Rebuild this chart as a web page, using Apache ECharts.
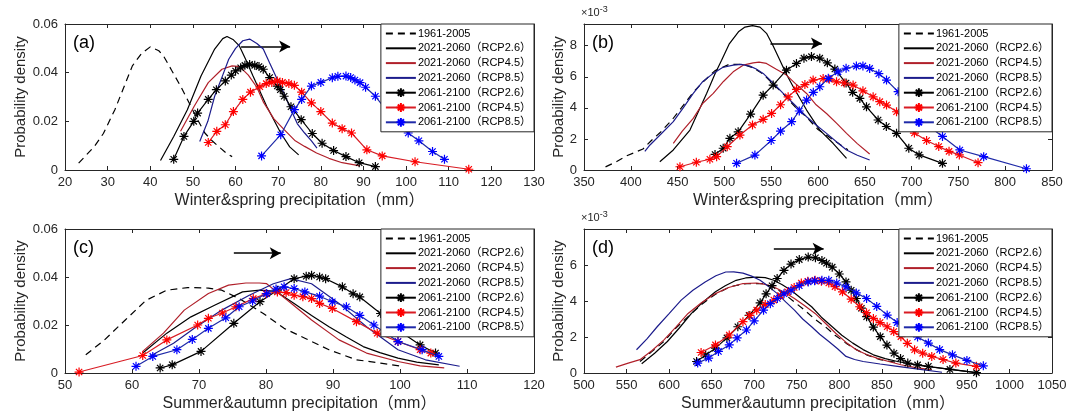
<!DOCTYPE html>
<html><head><meta charset="utf-8">
<script src="https://cdn.jsdelivr.net/npm/echarts@6/dist/echarts.min.js"></script>
<style>html,body{margin:0;padding:0;background:#fff}#c{width:1077px;height:420px}</style>
</head><body><div id="c"></div><script>
const NAMES = ['1961-2005','2021-2060（RCP2.6）','2021-2060（RCP4.5）','2021-2060（RCP8.5）','2061-2100（RCP2.6）','2061-2100（RCP4.5）','2061-2100（RCP8.5）'];

// ---------- Panel (a): Winter&spring, mm ----------
const a_hist = [[23.2,0.0028],[26.9,0.0097],[29,0.015],[31.7,0.0248],[33.8,0.034],[35.8,0.0428],[38,0.048],[40,0.0506],[42,0.049],[43.1,0.0469],[45,0.041],[47.1,0.0345],[49.1,0.0276],[51,0.021],[52.8,0.0152],[54.5,0.012],[56,0.0097],[57.8,0.007],[59.2,0.0055]];
const a_26_mid = [[42.4,0.0039],[45.5,0.0138],[48.7,0.0248],[51.9,0.0386],[55.1,0.0497],[57,0.054],[58,0.0549],[59.5,0.0535],[60.9,0.051],[62.5,0.045],[64.1,0.0386],[67.3,0.0262],[70.6,0.0152],[72.7,0.0095],[74.8,0.0062]];
const a_45_mid = [[47.1,0.0159],[50.3,0.0262],[53.6,0.0359],[56.8,0.0414],[59.2,0.0428],[61,0.0425],[63,0.039],[65,0.034],[66.5,0.028],[69,0.021],[71.4,0.0166],[74,0.012],[76.2,0.0097],[79,0.007],[81.9,0.0048],[85,0.003],[89.2,0.0017]];
const a_85_mid = [[51.6,0.0117],[53.5,0.02],[55.1,0.0303],[57,0.039],[58.4,0.0455],[60,0.05],[61.7,0.0531],[63.3,0.0538],[65,0.052],[66.5,0.0497],[68,0.044],[69.8,0.0372],[71.5,0.031],[73,0.0248],[74.5,0.019],[76.2,0.0152],[77.8,0.012],[79.1,0.009]];
const a_26_end = [[45.5,0.0044],[47.9,0.0138],[50.2,0.02],[51.1,0.0234],[53.6,0.029],[55.5,0.033],[57.6,0.0366],[59,0.039],[60,0.0407],[61.2,0.042],[62.2,0.043],[63.3,0.0434],[64.5,0.043],[65.5,0.0425],[66.5,0.0414],[68,0.038],[69.8,0.0345],[70.5,0.033],[71.4,0.0303],[73,0.026],[75.4,0.0207],[78,0.015],[80.3,0.011],[83,0.008],[85.9,0.0055],[89,0.003],[92.8,0.0014]];
const a_45_end = [[53.6,0.0113],[55.6,0.0159],[57.6,0.0186],[59.5,0.024],[61.7,0.029],[63.5,0.032],[65.7,0.0342],[67.2,0.0355],[68.5,0.036],[69.8,0.0366],[71,0.036],[72.5,0.0355],[73.8,0.0348],[75.5,0.032],[77.8,0.0276],[80,0.024],[82.7,0.0193],[85,0.017],[87.2,0.0152],[90.8,0.0083],[94.4,0.0058],[102.1,0.0034],[114.7,0.0003]];
const a_85_end = [[66.1,0.0058],[70.6,0.0145],[73.8,0.0248],[75.5,0.029],[77.8,0.0345],[80,0.036],[82.7,0.0379],[84,0.0385],[85.9,0.0386],[87,0.038],[88,0.037],[89.2,0.0359],[90.5,0.034],[92.8,0.0303],[95.6,0.0241],[98,0.019],[100.5,0.0152],[103,0.012],[106.2,0.0076],[109,0.0044]];
const a_arrow = [[61.3,0.0508],[72.8,0.0508]];

// ---------- Panel (b): Winter&spring, x10^-3 ----------
const b_hist = [[373,0.2],[385,0.55],[395,0.9],[405,1.15],[413,1.35],[422,1.9],[432,2.45],[445,3.3],[454,4.0],[466,4.95],[476,5.6],[490,6.4],[505,6.8],[520,6.8],[530,6.6],[541,6.2],[556,5.3],[563,4.9],[578,3.9],[588,3.4],[600,2.6],[610,2.2],[622,1.7],[632,1.3]];
const b_26_mid = [[431,0.53],[445.4,1.29],[463.2,2.57],[481,4.93],[490,6.2],[497,7.07],[505,8.1],[515,8.9],[522,9.2],[530,9.3],[538,9.2],[545,8.8],[552,8.0],[559.3,7.07],[566,6.2],[573.5,5.36],[587.8,3.86],[601.9,2.57],[616.1,1.72],[630.5,0.75]];
const b_45_mid = [[445.4,1.72],[455,2.5],[466.7,3.32],[477,4.3],[488.1,4.93],[499,5.7],[509.4,6.32],[520,6.75],[530.7,6.9],[537,6.95],[544.9,6.86],[555,6.5],[566.3,6.11],[577,5.5],[587.8,4.93],[598,4.2],[609.1,3.64],[620,3.0],[630.5,2.36],[642,1.7],[655.2,1.03]];
const b_85_mid = [[415,1.2],[420.5,1.61],[432,2.3],[445.4,3.11],[456,4.0],[466.7,4.93],[477,5.7],[488.1,6.22],[498,6.6],[509.4,6.75],[518,6.8],[527.2,6.69],[534,6.5],[541.4,6.22],[552,5.6],[562.8,4.93],[575,4.2],[587.8,3.43],[598,2.9],[609.1,2.36],[620,1.8],[630.5,1.29],[642,0.95],[655.2,0.64]];
const b_26_end = [[490,1.0],[498.7,1.4],[505.9,2.04],[514.7,2.46],[528,3.6],[541.4,4.82],[552.1,5.47],[566.3,6.43],[577,6.86],[585,7.2],[593,7.3],[601.9,7.2],[610,6.9],[618,6.5],[630,5.6],[637,5.0],[644.7,4.61],[651.8,4.07],[664.2,3.22],[673,2.8],[683.9,2.36],[697,1.4],[708,0.97],[733,0.43]];
const b_45_end = [[452.5,0.21],[470,0.5],[484.5,0.69],[491.7,0.86],[503,1.5],[516.6,2.25],[530,2.9],[541.4,3.26],[550.4,3.64],[560,4.2],[568.1,4.71],[577,5.19],[586,5.5],[594.8,5.79],[605.5,5.89],[612,5.85],[619.8,5.68],[628,5.6],[637.5,5.47],[648,5.1],[658.9,4.71],[666,4.4],[673.2,4.18],[683.9,3.75],[695,3.0],[703,2.38],[716,1.9],[729,1.51],[740,1.2],[751,0.97],[771,0.47]];
const b_85_end = [[513,0.43],[532.6,0.96],[550,1.9],[560,2.5],[571.8,3.11],[580,3.8],[587.8,4.5],[595,5.0],[601.9,5.36],[611,5.9],[621.4,6.32],[630,6.55],[641,6.69],[648,6.7],[655.2,6.54],[665,6.2],[673.2,5.79],[685.6,5.04],[696,4.32],[714,3.03],[733,2.16],[751.5,1.29],[777,0.86],[822.7,0.08]];
const b_arrow = [[549.2,8.15],[604.2,8.15]];

// ---------- Panel (c): Summer&autumn, mm ----------
const c_hist = [[53.1,0.0076],[55.9,0.0138],[59,0.0221],[62.1,0.0303],[65.2,0.0345],[68.3,0.0356],[71.4,0.0354],[73.4,0.0345],[76,0.031],[79.6,0.0248],[82.7,0.0186],[85.8,0.0145],[89.4,0.0097],[93.5,0.0055],[97.1,0.0041],[100.2,0.0028]];
const c_26_mid = [[61.6,0.0083],[65.2,0.0166],[68.8,0.0234],[72.4,0.0283],[76.5,0.0338],[79.1,0.0345],[81.5,0.034],[84.2,0.029],[86.8,0.024],[89.4,0.0193],[92,0.015],[94.5,0.011],[97,0.0085],[99.7,0.0062],[102.5,0.0045],[105.8,0.0034]];
const c_45_mid = [[61.6,0.009],[64.7,0.0166],[67.8,0.0262],[71.4,0.0331],[74.4,0.0366],[77,0.0375],[79,0.0375],[80.1,0.0372],[81.5,0.034],[83.2,0.0303],[86.8,0.0221],[90.9,0.0138],[95,0.0083],[99.7,0.0048],[103,0.003],[106.6,0.0021]];
const c_85_mid = [[62.6,0.0069],[66.2,0.0124],[69.3,0.0186],[73.4,0.0262],[77.5,0.0324],[81.1,0.0372],[83.7,0.0393],[86.8,0.0372],[90.9,0.029],[95,0.0193],[99.7,0.0097],[103.8,0.0055],[108.9,0.0028]];
const c_26_end = [[64.2,0.0021],[66,0.0034],[70.3,0.009],[75.2,0.0207],[79.1,0.0297],[81.7,0.0345],[84.2,0.0393],[86,0.0403],[86.8,0.0407],[88,0.04],[88.9,0.0393],[91.4,0.0359],[93,0.033],[94,0.0317],[97.1,0.0248],[99.7,0.0179],[103,0.0117],[105.3,0.0083]];
const c_45_end = [[52.1,0.0004],[61.6,0.0073],[65.2,0.0138],[69.8,0.02],[71.4,0.0228],[73.5,0.025],[75.5,0.0276],[78.1,0.031],[80,0.033],[81.7,0.0338],[83,0.0335],[84.2,0.0324],[85.5,0.0318],[86.8,0.031],[88,0.029],[89.9,0.0269],[93.5,0.0214],[96.6,0.0166],[99.7,0.0131],[103,0.0097],[104.6,0.0083]];
const c_85_end = [[60.6,0.0028],[63.1,0.0069],[66.7,0.0097],[69,0.014],[71.4,0.0186],[74,0.023],[76,0.0276],[78,0.03],[80.1,0.0331],[81.5,0.035],[82.7,0.0359],[84.2,0.0352],[85.8,0.0338],[88,0.032],[89.9,0.0297],[92,0.0276],[94,0.024],[96.1,0.02],[99.7,0.0131],[103.3,0.0097],[105.8,0.0069]];
const c_arrow = [[75.2,0.0499],[82.2,0.0499]];

// ---------- Panel (d): Summer&autumn, x10^-3 ----------
const d_hist = [[565.8,0.64],[580,1.2],[594,1.75],[608,2.5],[622.3,3.13],[638,3.8],[654.5,4.38],[672,4.8],[690.9,4.97],[711,4.97],[723,4.75],[735.2,4.41],[747,3.95],[759.4,3.49],[771,3.0],[783.6,2.57],[795,2.1],[807.9,1.66],[820,1.3],[832.1,1.01],[848.2,0.74],[872.4,0.55]];
const d_26_mid = [[567.8,0.51],[583,1.1],[598,1.75],[612,2.5],[626.3,3.31],[640,3.95],[654.5,4.51],[666,4.85],[678.8,5.15],[690,5.28],[703,5.33],[713,5.3],[723.1,5.15],[733,4.9],[743.3,4.6],[755,4.15],[767.5,3.68],[779,3.1],[791.7,2.57],[803,2.1],[815.9,1.66],[828,1.3],[840.1,1.01],[854,0.8],[868.4,0.64],[890,0.45],[910,0.32],[928.9,0.22],[961.2,0.02]];
const d_45_mid = [[537.5,0.33],[552,0.55],[565.8,0.74],[580,1.25],[594,1.84],[608,2.55],[622.3,3.31],[638,3.9],[654.5,4.41],[670,4.75],[686.8,4.97],[703,5.0],[713,4.92],[723.1,4.78],[735,4.5],[747.3,4.14],[759,3.75],[771.6,3.31],[784,2.75],[795.8,2.21],[808,1.7],[820,1.29],[832,1.03],[844.2,0.83],[858,0.64],[872.4,0.46],[890,0.3],[908.7,0.18]];
const d_85_mid = [[561.7,1.29],[574,1.9],[586,2.57],[600,3.3],[614.2,4.05],[628,4.6],[642.4,5.06],[655,5.4],[666.6,5.61],[676,5.62],[686.8,5.55],[697,5.38],[707,5.15],[717,4.8],[727.2,4.41],[737,3.95],[747.3,3.49],[757,3.0],[767.5,2.57],[777,2.15],[787.7,1.75],[798,1.35],[807.9,0.92],[818,0.75],[828.1,0.64],[848,0.5],[868.4,0.37],[895,0.2],[920.8,0.04]];
const d_26_end = [[632.3,0.64],[643,1.0],[654.5,1.38],[668,1.95],[680.8,2.57],[694,3.2],[707,3.9],[714,4.4],[721,4.85],[727,5.25],[735,5.7],[743.3,6.05],[753,6.3],[763.5,6.44],[772,6.4],[779.6,6.25],[785,6.1],[791.7,5.88],[800,5.5],[807.9,5.06],[814,4.6],[820,4.14],[826,3.6],[832.1,3.13],[840,2.55],[848.2,2.02],[856,1.55],[864.3,1.1],[872,0.8],[880.5,0.55],[892,0.45],[904.7,0.37],[930,0.2],[961.2,0.02]];
const d_45_end = [[637.6,1.14],[654.5,1.56],[670.7,2.11],[686.8,2.85],[695,3.2],[703,3.49],[713,3.8],[723.1,4.05],[731,4.3],[739.2,4.51],[747,4.75],[755.4,5.0],[763,5.1],[771.6,5.15],[779,5.1],[787.7,5.0],[795,4.8],[803.8,4.51],[814,4.1],[824,3.68],[832,3.35],[840.1,3.03],[848,2.8],[856.3,2.57],[864,2.3],[872.4,2.02],[880,1.65],[888.5,1.29],[898,1.1],[908.7,0.92],[922,0.75],[937,0.55],[961.2,0.37]];
const d_85_end = [[633.6,0.55],[646.5,0.83],[658,1.2],[670.7,1.56],[680,1.95],[690.9,2.39],[700,2.9],[711,3.49],[719,3.85],[727.2,4.14],[735,4.4],[743.3,4.6],[753,4.85],[763.5,5.06],[771,5.12],[779.6,5.15],[787.7,5.15],[797,5.0],[807.9,4.78],[820,4.45],[832.1,4.14],[844,3.7],[856.3,3.22],[868,2.8],[880.5,2.39],[892,2.0],[904.7,1.66],[918,1.3],[933,1.01],[950,0.7],[969.3,0.4]];
const d_arrow = [[723.1,6.9],[781.6,6.9]];

// axis ranges / ticks
const a_x = [20,130,10], a_y = [0,0.06,0.02];
const b_x = [350,850,50], b_y = [0,9.4,2];
const c_x = [50,120,10], c_y = [0,0.06,0.02];
const d_x = [500,1050,50], d_y = [0,8,2];
const X_TITLES = ['Winter&spring precipitation（mm）','Winter&spring precipitation（mm）','Summer&autumn precipitation（mm）','Summer&autumn precipitation（mm）'];
const Y_TITLE = 'Probability density';
const PANEL_LABELS = ['(a)','(b)','(c)','(d)'];

const FONT = '"Liberation Sans", Arial, "Noto Sans CJK SC", sans-serif';
const AX = '#262626', TXT = '#262626';
const STAR = 'path://M5,0L5,10M0,5L10,5M1.5,1.5L8.5,8.5M1.5,8.5L8.5,1.5';
const STY = [
  {line:'#000000', dash:[7,5], star:null},
  {line:'#000000', dash:null, star:null},
  {line:'#b0202a', dash:null, star:null},
  {line:'#1c1c8c', dash:null, star:null},
  {line:'#000000', dash:null, star:'#000000'},
  {line:'#d81c24', dash:null, star:'#ff0000'},
  {line:'#1f2aa8', dash:null, star:'#0000ff'}
];

const GRIDS = [
  {left:65, top:24, width:469, height:146},
  {left:584, top:24, width:468, height:146},
  {left:65, top:229, width:469, height:144},
  {left:584, top:229, width:468, height:144}
];
const PANELS = [
  {x:a_x, y:a_y, data:[a_hist,a_26_mid,a_45_mid,a_85_mid,a_26_end,a_45_end,a_85_end], arrow:a_arrow, yGap:37, exp:false},
  {x:b_x, y:b_y, data:[b_hist,b_26_mid,b_45_mid,b_85_mid,b_26_end,b_45_end,b_85_end], arrow:b_arrow, yGap:17, exp:true},
  {x:c_x, y:c_y, data:[c_hist,c_26_mid,c_45_mid,c_85_mid,c_26_end,c_45_end,c_85_end], arrow:c_arrow, yGap:37, exp:false},
  {x:d_x, y:d_y, data:[d_hist,d_26_mid,d_45_mid,d_85_mid,d_26_end,d_45_end,d_85_end], arrow:d_arrow, yGap:17, exp:true}
];

const xAxes = [], yAxes = [], series = [], legends = [], graphics = [];
PANELS.forEach((p, g) => {
  [false, true].forEach(top => {
    xAxes.push({type:'value', gridIndex:g, min:p.x[0], max:p.x[1], interval:p.x[2], position: top ? 'top' : 'bottom',
      name: top ? '' : X_TITLES[g], nameLocation:'middle', nameGap:23,
      nameTextStyle:{fontSize:16, color:TXT, fontFamily:FONT},
      axisLine:{show:true, onZero:false, lineStyle:{color:AX, width:1}},
      axisTick:{show:true, inside:true, length:4, lineStyle:{color:AX}},
      axisLabel:{show:!top, color:TXT, fontSize:13, margin:6, fontFamily:FONT, formatter: v => String(v)},
      splitLine:{show:false}});
    yAxes.push({type:'value', gridIndex:g, min:p.y[0], max:p.y[1], interval:p.y[2], position: top ? 'right' : 'left',
      name: top ? '' : Y_TITLE, nameLocation:'middle', nameGap:p.yGap, nameRotate:90,
      nameTextStyle:{fontSize:15, color:TXT, fontFamily:FONT},
      axisLine:{show:true, onZero:false, lineStyle:{color:AX, width:1}},
      axisTick:{show:true, inside:true, length:4, lineStyle:{color:AX}},
      axisLabel:{show:!top, color:TXT, fontSize:13, margin:7, fontFamily:FONT, showMaxLabel: !p.exp},
      splitLine:{show:false}});
  });
  p.data.forEach((d, k) => {
    const s = STY[k];
    const ser = {type:'line', name:NAMES[k], xAxisIndex:2*g, yAxisIndex:2*g, data:d,
      smooth:false, silent:true, z: 3 + k,
      lineStyle:{color:s.line, width:1.2, type: s.dash ? s.dash : 'solid'}};
    if (s.star) {
      ser.symbol = STAR; ser.symbolSize = 9; ser.showSymbol = true;
      ser.itemStyle = {color:s.star, borderColor:s.star, borderWidth:1.2};
    } else {
      ser.symbol = 'circle'; ser.symbolSize = 1; ser.showSymbol = false;
      ser.itemStyle = {color:'rgba(0,0,0,0)', borderColor:'rgba(0,0,0,0)', borderWidth:0};
    }
    if (k === 0) {
      ser.markLine = {silent:true, symbol:['none','arrow'], symbolSize:[9,11], label:{show:false},
        lineStyle:{color:'#000', width:1.5, type:'solid'}, itemStyle:{color:'#000'},
        emphasis:{disabled:true},
        data:[[{coord:p.arrow[0]},{coord:p.arrow[1]}]]};
    }
    series.push(ser);
  });
  const G = GRIDS[g];
  legends.push({orient:'vertical', right: 1077 - (G.left + G.width), top: G.top, data: NAMES, selectedMode:false,
    backgroundColor:'#fff', borderColor:'#262626', borderWidth:1, borderRadius:0, padding:[4,3,4,4],
    itemWidth:30, itemHeight:11, itemGap:3.8, z:20,
    textStyle:{fontSize:11, color:'#000', fontFamily:FONT, padding:[0,0,0,-3]}});
  graphics.push({type:'text', left:G.left + 8, top:G.top + 10, z:30,
    style:{text:PANEL_LABELS[g], fontSize:18, fill:'#000', fontFamily:FONT}});
  if (p.exp) {
    graphics.push({type:'text', left:G.left - 3, top:G.top - 19, z:30,
      style:{text:'{a|×10}{b|-3}', rich:{a:{fontSize:11, fill:TXT, fontFamily:FONT}, b:{fontSize:9, fill:TXT, fontFamily:FONT, padding:[0,0,7,0]}}}});
  }
});

const chart = echarts.init(document.getElementById('c'), null, {renderer:'canvas'});
chart.setOption({
  animation:false, backgroundColor:'#fff',
  grid: GRIDS.map(g => Object.assign({containLabel:false}, g)),
  xAxis:xAxes, yAxis:yAxes, series:series, legend:legends, graphic:graphics
});
</script></body></html>
